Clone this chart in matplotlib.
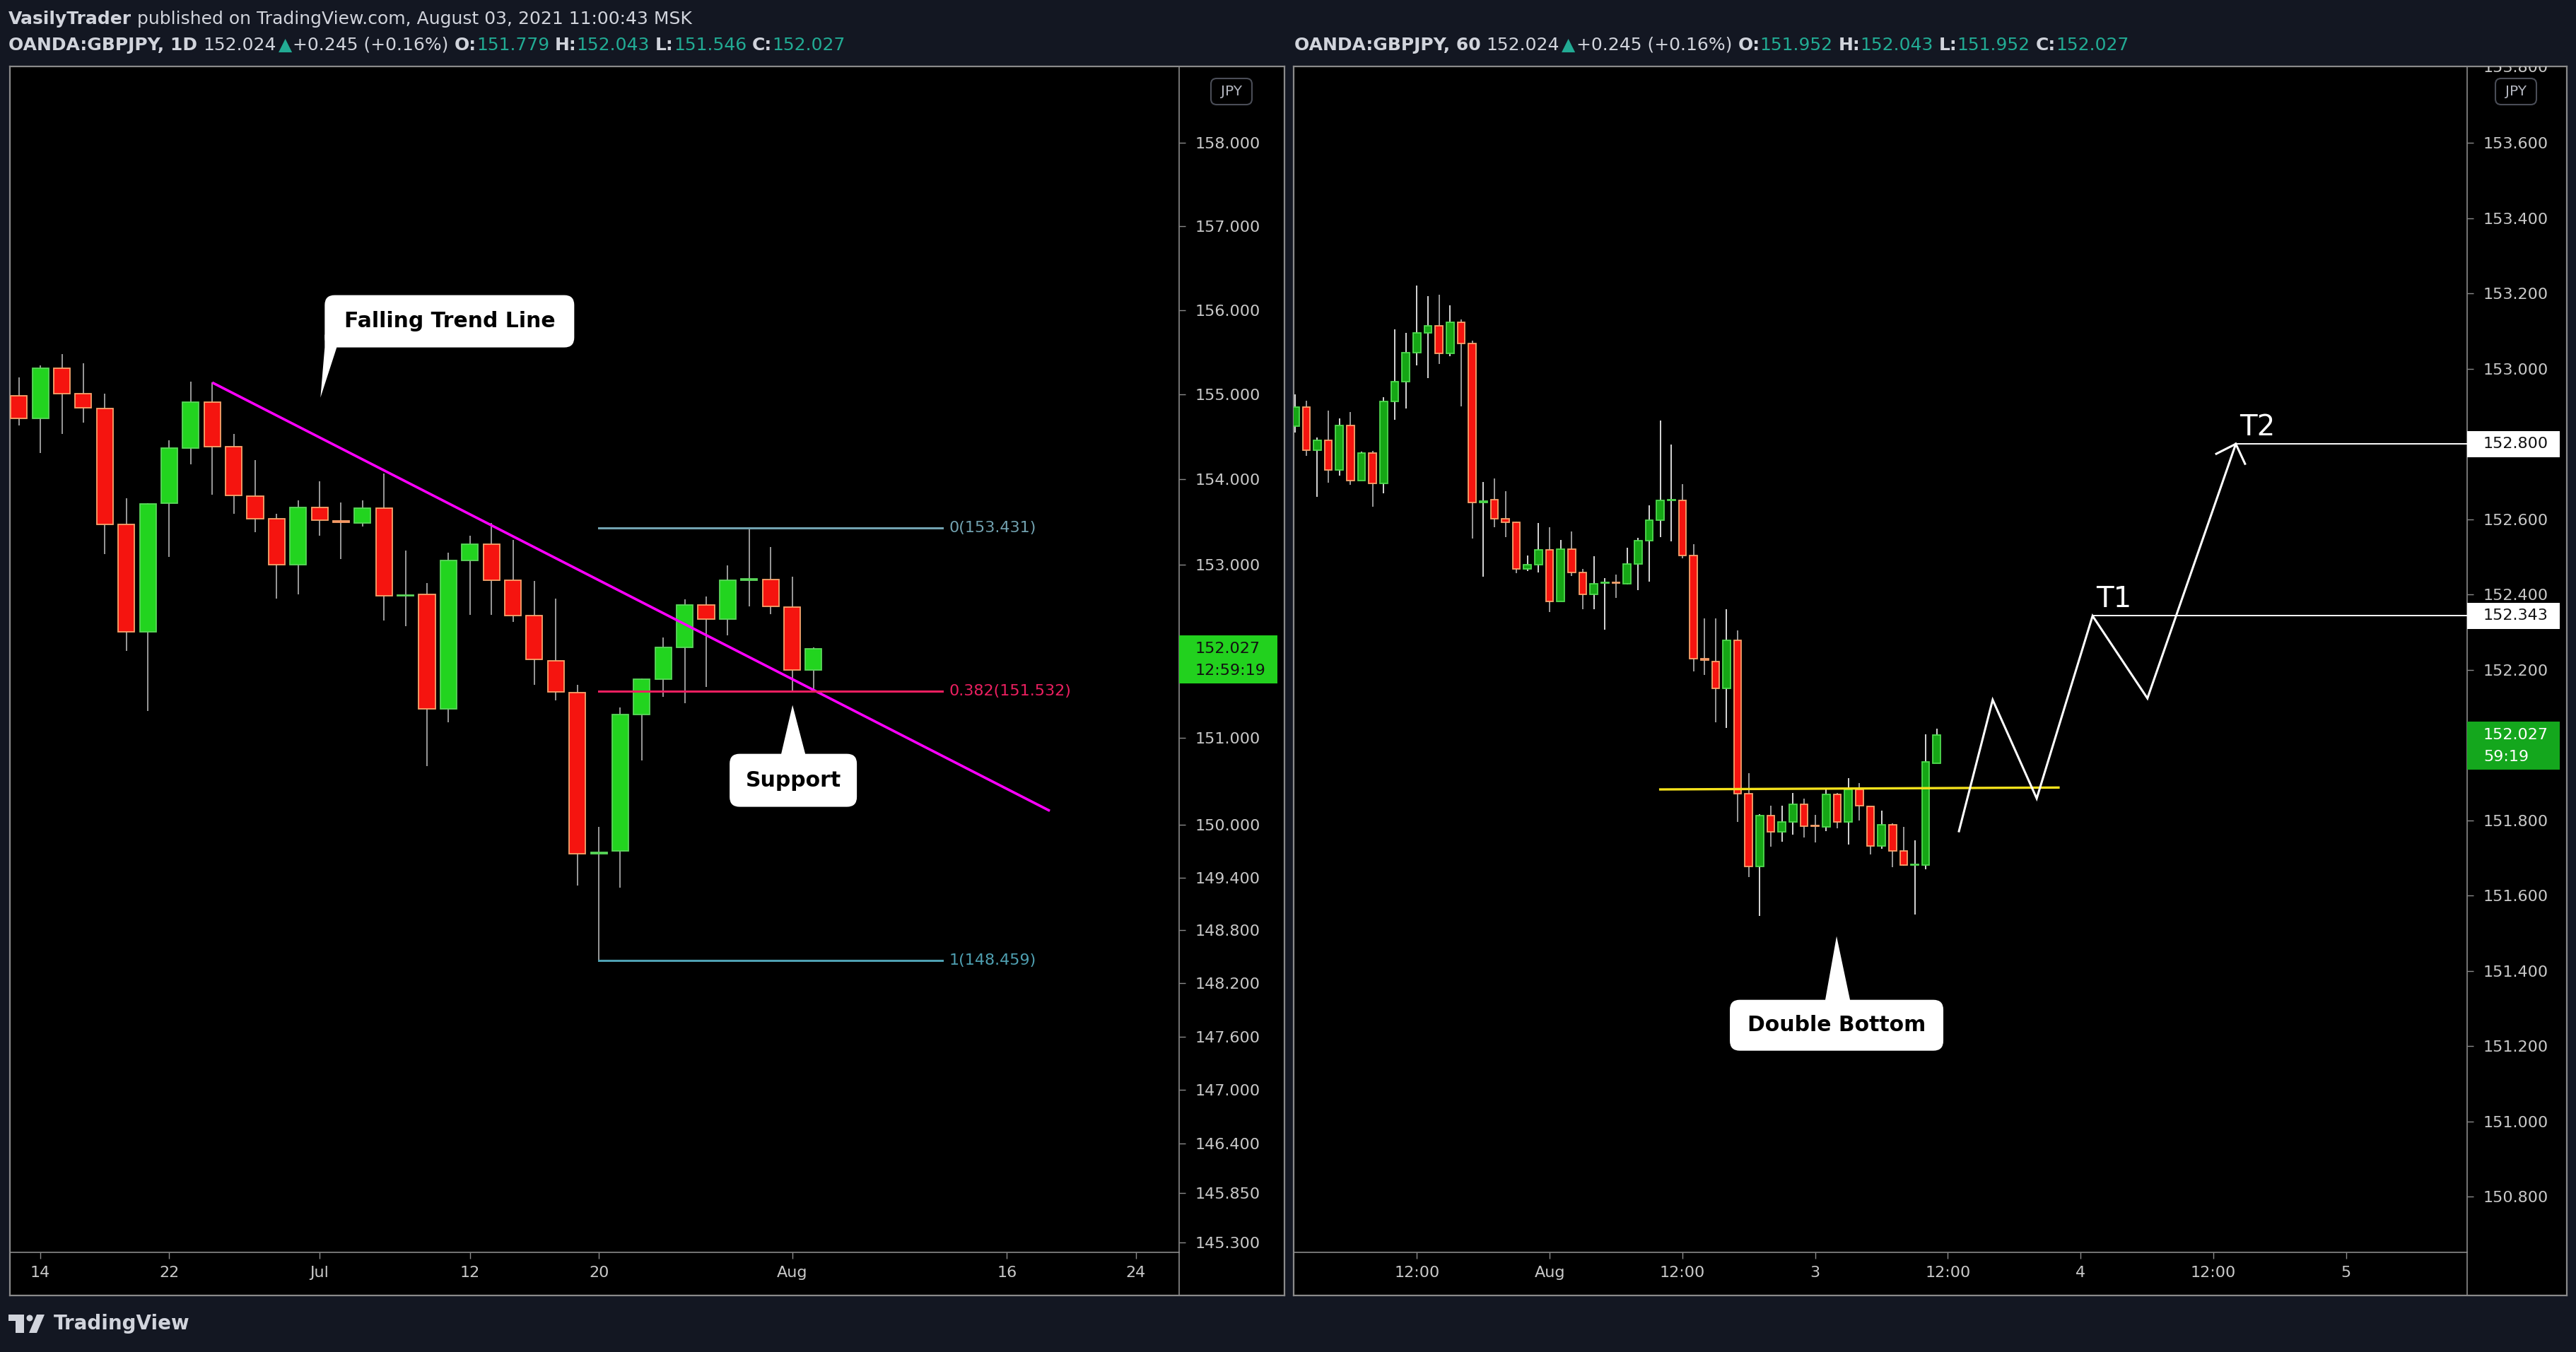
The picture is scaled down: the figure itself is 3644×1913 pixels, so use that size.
import numpy as np
import pandas as pd
import matplotlib
matplotlib.use('Agg')
import matplotlib.pyplot as plt
from matplotlib.patches import Rectangle, FancyBboxPatch, Polygon
from matplotlib.transforms import IdentityTransform
from matplotlib.ticker import FixedLocator, FormatStrFormatter, NullLocator, NullFormatter

# ---------------- daily chart: OANDA:GBPJPY 1D, bars 11 Jun - 3 Aug 2021 ----------------
d_open = [154.98, 154.72, 155.31, 155.01, 154.83, 153.47, 152.22, 153.72, 154.37, 154.91,
          154.38, 153.80, 153.54, 153.00, 153.67, 153.51, 153.49, 153.66, 152.64, 152.66,
          151.33, 153.05, 153.24, 152.82, 152.41, 151.89, 151.52, 149.67, 149.70, 151.27,
          151.67, 152.04, 152.53, 152.37, 152.82, 152.83, 152.51, 151.779]
d_high = [155.20, 155.34, 155.48, 155.37, 155.01, 153.78, 153.72, 154.46, 155.15, 155.14,
          154.53, 154.23, 153.60, 153.75, 153.98, 153.73, 153.75, 154.07, 153.17, 152.79,
          153.14, 153.34, 153.49, 153.29, 152.81, 152.61, 151.61, 149.98, 151.35, 151.68,
          152.16, 152.60, 152.63, 152.99, 153.431, 153.21, 152.86, 152.043]
d_low = [154.63, 154.31, 154.53, 154.67, 153.13, 152.00, 151.31, 153.09, 154.18, 153.82,
         153.60, 153.38, 152.61, 152.66, 153.34, 153.07, 153.45, 152.35, 152.29, 150.67,
         151.18, 152.42, 152.42, 152.34, 151.61, 151.43, 149.31, 148.459, 149.28, 150.74,
         151.47, 151.40, 151.58, 152.18, 152.52, 152.43, 151.54, 151.546]
d_close = [154.72, 155.31, 155.01, 154.84, 153.47, 152.22, 153.71, 154.37, 154.91, 154.38,
           153.81, 153.54, 153.00, 153.67, 153.52, 153.50, 153.66, 152.64, 152.65, 151.33,
           153.05, 153.24, 152.82, 152.41, 151.90, 151.53, 149.67, 149.69, 151.27, 151.67,
           152.04, 152.53, 152.37, 152.82, 152.84, 152.52, 151.78, 152.027]
d_slots = pd.bdate_range('2021-06-11', '2021-08-31')
d_tick_dates = ['2021-06-14', '2021-06-22', '2021-07-01', '2021-07-12', '2021-07-20',
                '2021-08-02', '2021-08-16', '2021-08-24']
d_tick_labels = ['14', '22', 'Jul', '12', '20', 'Aug', '16', '24']
d_yticks = [158, 157, 156, 155, 154, 153, 151, 150, 149.4, 148.8, 148.2, 147.6,
            147, 146.4, 145.85, 145.3]
d_xlim = (-0.42, 54.02)
d_ylim = (145.194, 158.921)

# drawings on the daily chart (bar index, price)
trend_x = [9.0, 48.0]
trend_y = [155.14, 150.16]
fib_x = [27, 43]
fib_levels = [153.431, 151.532, 148.459]
fib_names = ['0', '0.382', '1']
fib_colors = ['#72a2b0', '#ec1f60', '#4fa0b2']

# ---------------- hourly chart: OANDA:GBPJPY 60, 30 Jul 01:00 - 3 Aug 11:00 ----------------
h_open = [152.848, 152.898, 152.784, 152.810, 152.731, 152.850, 152.703, 152.776, 152.696, 152.912,
          152.966, 153.043, 153.095, 153.114, 153.041, 153.123, 153.067, 152.644, 152.652, 152.601,
          152.592, 152.468, 152.479, 152.519, 152.381, 152.521, 152.458, 152.400, 152.430, 152.433,
          152.429, 152.481, 152.543, 152.598, 152.650, 152.650, 152.504, 152.229, 152.222, 152.150,
          152.279, 151.871, 151.678, 151.812, 151.770, 151.795, 151.842, 151.786, 151.783, 151.868,
          151.795, 151.882, 151.837, 151.732, 151.788, 151.718, 151.681, 151.681, 151.952]
h_high = [152.931, 152.915, 152.817, 152.888, 152.867, 152.884, 152.780, 152.782, 152.924, 153.105,
          153.095, 153.220, 153.192, 153.197, 153.169, 153.130, 153.074, 152.699, 152.709, 152.675,
          152.593, 152.504, 152.589, 152.578, 152.544, 152.568, 152.468, 152.502, 152.444, 152.452,
          152.525, 152.550, 152.636, 152.862, 152.798, 152.694, 152.534, 152.337, 152.337, 152.361,
          152.305, 151.926, 151.817, 151.838, 151.838, 151.873, 151.857, 151.815, 151.886, 151.872,
          151.912, 151.899, 151.837, 151.826, 151.792, 151.783, 151.747, 152.029, 152.043]
h_low = [152.830, 152.768, 152.659, 152.697, 152.716, 152.691, 152.703, 152.634, 152.668, 152.864,
         152.894, 153.008, 152.975, 153.013, 153.033, 152.900, 152.548, 152.447, 152.578, 152.552,
         152.456, 152.463, 152.458, 152.354, 152.381, 152.449, 152.360, 152.361, 152.307, 152.391,
         152.426, 152.412, 152.435, 152.553, 152.542, 152.496, 152.196, 152.186, 152.061, 152.045,
         151.795, 151.649, 151.545, 151.729, 151.743, 151.761, 151.755, 151.741, 151.772, 151.778,
         151.735, 151.800, 151.709, 151.725, 151.676, 151.679, 151.550, 151.669, 151.952]
h_close = [152.898, 152.784, 152.810, 152.731, 152.850, 152.703, 152.776, 152.696, 152.912, 152.966,
           153.043, 153.095, 153.114, 153.041, 153.123, 153.067, 152.645, 152.648, 152.601, 152.591,
           152.468, 152.479, 152.519, 152.381, 152.521, 152.458, 152.400, 152.428, 152.433, 152.430,
           152.481, 152.543, 152.598, 152.650, 152.652, 152.504, 152.230, 152.226, 152.150, 152.279,
           151.871, 151.678, 151.812, 151.770, 151.795, 151.842, 151.785, 151.784, 151.868, 151.795,
           151.882, 151.838, 151.732, 151.788, 151.719, 151.681, 151.683, 151.955, 152.027]
h_slots = pd.DatetimeIndex(list(pd.date_range('2021-07-30 01:00', '2021-07-30 23:00', freq='h'))
                           + list(pd.date_range('2021-08-02 00:00', '2021-08-06 00:00', freq='h')))
h_tick_times = ['2021-07-30 12:00', '2021-08-02 00:00', '2021-08-02 12:00', '2021-08-03 00:00',
                '2021-08-03 12:00', '2021-08-04 00:00', '2021-08-04 12:00', '2021-08-05 00:00']
h_tick_labels = ['12:00', 'Aug', '12:00', '3', '12:00', '4', '12:00', '5']
h_yticks = [153.6, 153.4, 153.2, 153.0, 152.6, 152.4, 152.2, 151.8, 151.6, 151.4,
            151.2, 151.0, 150.8]
h_top_label = 153.8   # half hidden under the panel border
h_xlim = (-0.14, 105.94)
h_ylim = (150.652, 153.803)

# drawings on the hourly chart (bar index, price)
neck_x = [33, 69]
neck_y = [151.882, 151.887]
path_x = [60.0, 63.05, 67.03, 72.08, 77.04, 85.03]
path_y = [151.771, 152.120, 151.858, 152.343, 152.124, 152.800]
targets = [152.343, 152.800]
target_names = ['T1', 'T2']
target_start = [72.08, 85.03]

last_price = 152.027

# ---------------- style ----------------
W, H = 3644, 1913
BG = '#131722'
GRID = '#8a8a8a'
TEXT = '#d1d4dc'
TICK = '#c9c9c9'
TEAL = '#22ab94'
RED_FILL, RED_EDGE = '#f5140f', '#f8a36c'

fig = plt.figure(figsize=(W / 100, H / 100), dpi=100)
fig.patch.set_facecolor(BG)
ID = IdentityTransform()


def frac_rect(x0, y0, x1, y1):
    return [x0 / W, 1 - y1 / H, (x1 - x0) / W, (y1 - y0) / H]


def panel(box, plot_right, plot_bottom):
    x0, y0, x1, y1 = box
    bg = fig.add_axes(frac_rect(x0, y0, x1, y1), zorder=0)
    bg.set_facecolor('black')
    bg.set_xticks([])
    bg.set_yticks([])
    bg.set_xlim(x0, x1)
    bg.set_ylim(y1, y0)
    for s in bg.spines.values():
        s.set_color(GRID)
        s.set_linewidth(1.6)
    bg.plot([plot_right, plot_right], [plot_bottom, y1], color=GRID, lw=1.2)
    ax = fig.add_axes(frac_rect(x0, y0, plot_right, plot_bottom), zorder=1)
    ax.set_facecolor('none')
    ax.spines['top'].set_visible(False)
    ax.spines['left'].set_visible(False)
    for s in ('right', 'bottom'):
        ax.spines[s].set_color(GRID)
        ax.spines[s].set_linewidth(1.2)
    ax.yaxis.tick_right()
    ax.tick_params(axis='both', which='major', direction='out', length=6.5, width=1,
                   color=GRID, labelcolor=TICK, labelsize=16)
    ax.tick_params(axis='y', pad=10)
    ax.tick_params(axis='x', pad=7)
    return bg, ax


def candles(ax, o, h, l, c, width, up_fill, up_edge, up_wick, dn_wick):
    o, h, l, c = map(np.asarray, (o, h, l, c))
    x = np.arange(len(o))
    up = c >= o
    ax.vlines(x, l, h, colors=np.where(up, up_wick, dn_wick), lw=1.3, zorder=2)
    ax.bar(x, np.maximum(np.abs(c - o), 1e-3), width, bottom=np.minimum(o, c),
           color=np.where(up, up_fill, RED_FILL), edgecolor=np.where(up, up_edge, RED_EDGE),
           lw=1.3, zorder=3)


def callout(ax, tip, box, base, text):
    tx, ty = ax.transData.transform(tip)
    bx0, bx1, by0, by1 = box
    fig.add_artist(FancyBboxPatch((tx + bx0, ty + by0), bx1 - bx0, by1 - by0,
                                  boxstyle='round,pad=0,rounding_size=14', fc='white', ec='none',
                                  transform=ID, zorder=6))
    yb, ext = (by0, 18) if by0 > 0 else (by1, -18)
    fig.add_artist(Polygon([(tx, ty), (tx + base[0], ty + yb), (tx + base[0], ty + yb + ext),
                            (tx + base[1], ty + yb + ext), (tx + base[1], ty + yb)],
                           closed=True, fc='white', ec='none', transform=ID, zorder=6))
    fig.text(tx + (bx0 + bx1) / 2, ty + (by0 + by1) / 2, text, transform=ID, ha='center',
             va='center', fontsize=21.5, fontweight='bold', color='black', zorder=7)


def price_tag(ax, price, lines, fc, tc, width, below=0):
    x1 = ax.bbox.x1
    y = ax.transData.transform((0, price))[1]
    fig.add_artist(Rectangle((x1, y - 18.5 - below), width, 37 + below, fc=fc, ec='none',
                             transform=ID, zorder=6))
    for k, s in enumerate(lines):
        fig.text(x1 + 23, y - 31 * k, s, transform=ID, ha='left', va='center', fontsize=16,
                 color=tc, zorder=7)


def currency_badge(ax, dx):
    x1 = ax.bbox.x1
    ytop = H - 111
    fig.add_artist(FancyBboxPatch((x1 + dx, ytop - 37), 58, 37, boxstyle='round,pad=0,rounding_size=8',
                                  fc='black', ec='#4a4d57', lw=1.5, transform=ID, zorder=6))
    fig.text(x1 + dx + 29, ytop - 18.5, 'JPY', transform=ID, ha='center', va='center',
             fontsize=14.5, color='#b2b5be', zorder=7)


def runs(x, y, items, size):
    r = fig.canvas.get_renderer()
    sp = 0.318 * size * 100 / 72
    for s, color, weight, gap in items:
        x += gap * sp
        t = fig.text(x / W, 1 - y / H, s, color=color, fontsize=size, fontweight=weight,
                     ha='left', va='center')
        x += t.get_window_extent(r).width


# ---------------- left: daily ----------------
bg1, ax1 = panel((14, 94, 1817, 1833), 1668, 1772)
ax1.set_yscale('log')
ax1.set_xlim(*d_xlim)
ax1.set_ylim(*d_ylim)
ax1.yaxis.set_major_locator(FixedLocator(d_yticks))
ax1.yaxis.set_major_formatter(FormatStrFormatter('%.3f'))
ax1.yaxis.set_minor_locator(NullLocator())
ax1.yaxis.set_minor_formatter(NullFormatter())
ax1.set_xticks([d_slots.get_loc(pd.Timestamp(d)) for d in d_tick_dates], d_tick_labels)
candles(ax1, d_open, d_high, d_low, d_close, 0.76, '#22d41f', '#5bd65b', '#a6a6a6', '#a6a6a6')
ax1.plot(trend_x, trend_y, color='#ff00ff', lw=2.6, zorder=4, solid_capstyle='butt')
for lev, name, col in zip(fib_levels, fib_names, fib_colors):
    ax1.plot(fib_x, [lev, lev], color=col, lw=2.2, zorder=4)
    ax1.text(fib_x[1] + 0.32, lev, f'{name}({lev:.3f})', color=col, fontsize=16,
             ha='left', va='center')
callout(ax1, (14.04, 154.962), (6, 359, 71, 145), (6, 23), 'Falling Trend Line')
callout(ax1, (36.02, 151.375), (-89, 91, -144, -69), (-16, 18), 'Support')
price_tag(ax1, last_price, ['152.027', '12:59:19'], '#22d11e', '#111111', 139, below=31)
currency_badge(ax1, 45)

# ---------------- right: hourly ----------------
bg2, ax2 = panel((1830, 94, 3631, 1833), 3490, 1772)
ax2.set_xlim(*h_xlim)
ax2.set_ylim(*h_ylim)
ax2.yaxis.set_major_locator(FixedLocator(h_yticks))
ax2.yaxis.set_major_formatter(FormatStrFormatter('%.3f'))
ax2.set_xticks([h_slots.get_loc(pd.Timestamp(t)) for t in h_tick_times], h_tick_labels)
candles(ax2, h_open, h_high, h_low, h_close, 0.68, '#15a615', '#4fd94f', '#e8e8e8', '#a6a6a6')
ax2.plot(neck_x, neck_y, color='#f5e21c', lw=2.4, zorder=4)
ax2.plot(path_x, path_y, color='white', lw=2.2, zorder=5, solid_joinstyle='miter')
pts = ax2.transData.transform(np.column_stack([path_x, path_y]))
v = (pts[-2] - pts[-1]) / np.linalg.norm(pts[-2] - pts[-1])
for ang in (44, -44):
    a = np.deg2rad(ang)
    wing = pts[-1] + 31 * np.array([[np.cos(a), -np.sin(a)], [np.sin(a), np.cos(a)]]) @ v
    wd = ax2.transData.inverted().transform([pts[-1], wing])
    ax2.plot(wd[:, 0], wd[:, 1], color='white', lw=2.2, zorder=5)
for lev, name, x0 in zip(targets, target_names, target_start):
    ax2.plot([x0, h_xlim[1]], [lev, lev], color='white', lw=1.4, zorder=4)
    ax2.annotate(name, (x0 + 0.35, lev), xytext=(0, 3), textcoords='offset pixels',
                 color='white', fontsize=29, ha='left', va='bottom')
    price_tag(ax2, lev, [f'{lev:.3f}'], 'white', '#111111', 131)
callout(ax2, (48.94, 151.492), (-151, 151, -162, -90), (-16, 19), 'Double Bottom')
price_tag(ax2, last_price, ['152.027', '59:19'], '#14a71d', 'white', 131, below=31)
currency_badge(ax2, 40)
# top tick label, cut by the panel border
ytop = ax2.transData.transform((0, h_top_label))[1]
t = fig.text(ax2.bbox.x1 + 23, ytop, f'{h_top_label:.3f}', transform=ID, ha='left', va='center',
             fontsize=16, color=TICK, zorder=5)
t.set_clip_box(bg2.bbox)
t.set_clip_on(True)

# ---------------- header & footer ----------------
runs(12, 27, [('VasilyTrader', TEXT, 'bold', 0),
              ('published on TradingView.com, August 03, 2021 11:00:43 MSK', TEXT, 'normal', 1)], 18)
runs(12, 64, [('OANDA:GBPJPY, 1D', TEXT, 'bold', 0), ('152.024', TEXT, 'normal', 1),
              ('▲', TEAL, 'normal', 0.4), ('+0.245 (+0.16%)', TEXT, 'normal', 0.2),
              ('O:', TEXT, 'bold', 1), ('151.779', TEAL, 'normal', 0),
              ('H:', TEXT, 'bold', 1), ('152.043', TEAL, 'normal', 0),
              ('L:', TEXT, 'bold', 1), ('151.546', TEAL, 'normal', 0),
              ('C:', TEXT, 'bold', 1), ('152.027', TEAL, 'normal', 0)], 18)
runs(1831, 64, [('OANDA:GBPJPY, 60', TEXT, 'bold', 0), ('152.024', TEXT, 'normal', 1),
                ('▲', TEAL, 'normal', 0.4), ('+0.245 (+0.16%)', TEXT, 'normal', 0.2),
                ('O:', TEXT, 'bold', 1), ('151.952', TEAL, 'normal', 0),
                ('H:', TEXT, 'bold', 1), ('152.043', TEAL, 'normal', 0),
                ('L:', TEXT, 'bold', 1), ('151.952', TEAL, 'normal', 0),
                ('C:', TEXT, 'bold', 1), ('152.027', TEAL, 'normal', 0)], 18)

# TradingView logo
logo = [Polygon([(12, 1860), (34, 1860), (34, 1886), (22, 1886), (22, 1869), (12, 1869)]),
        Polygon([(52, 1860), (63, 1860), (52, 1886), (41, 1886)])]
for p in logo:
    p.set_xy([(x, H - y) for x, y in p.get_xy()])
    p.set_transform(ID)
    p.set_facecolor(TEXT)
    p.set_edgecolor('none')
    fig.add_artist(p)
fig.add_artist(matplotlib.patches.Circle((42, H - 1865), 4.5, transform=ID, fc=TEXT, ec='none'))
fig.text(76 / W, 1 - 1873 / H, 'TradingView', fontsize=20, fontweight='bold', color=TEXT,
         ha='left', va='center')

fig.savefig('out.png', dpi=100, facecolor=fig.get_facecolor())
